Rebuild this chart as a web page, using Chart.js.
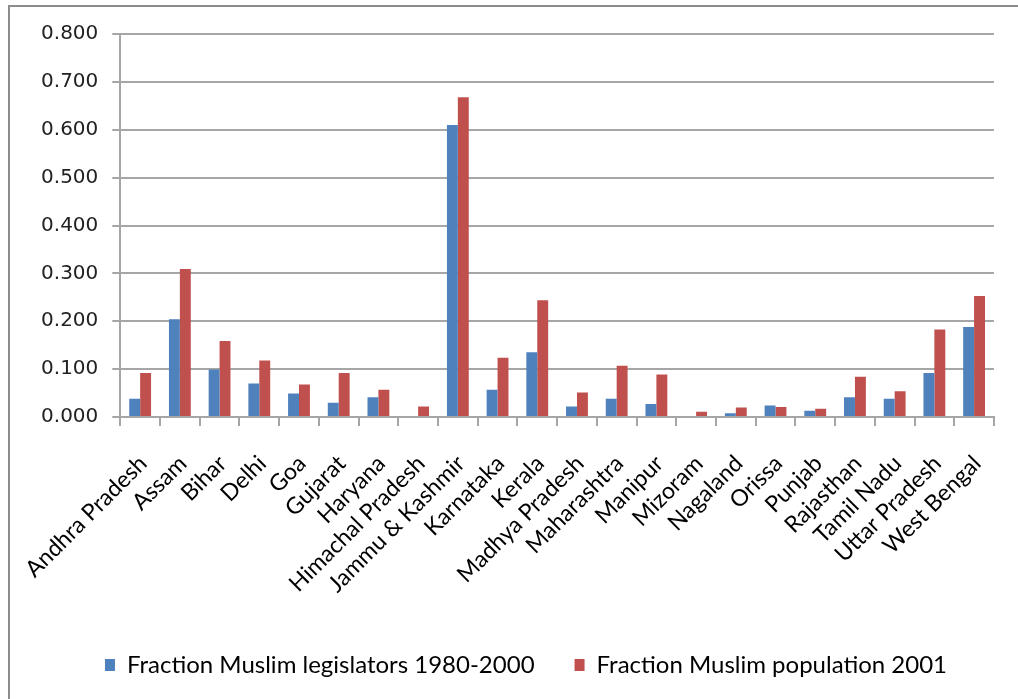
<!DOCTYPE html>
<html>
<head>
<meta charset="utf-8">
<script src="https://cdn.jsdelivr.net/npm/chart.js@4"></script>
<style>
  html, body { margin: 0; padding: 0; background: #fff; }
  #wrap { position: relative; width: 1018px; height: 699px; }
  #frame { position: absolute; left: 8px; top: 5px; width: 1030px; height: 720px;
           border-left: 2px solid #8c8c8c; border-top: 2px solid #8c8c8c; }
  canvas { position: absolute; left: 0; top: 0; }
</style>
</head>
<body>
<div id="wrap">
  <div id="frame"></div>
  <canvas id="chart" width="1018" height="699"></canvas>
</div>
<script>
const states = ['Andhra Pradesh', 'Assam', 'Bihar', 'Delhi', 'Goa', 'Gujarat', 'Haryana',
  'Himachal Pradesh', 'Jammu & Kashmir', 'Karnataka', 'Kerala', 'Madhya Pradesh',
  'Maharashtra', 'Manipur', 'Mizoram', 'Nagaland', 'Orissa', 'Punjab', 'Rajasthan',
  'Tamil Nadu', 'Uttar Pradesh', 'West Bengal'];

const legislators = [0.038, 0.204, 0.099, 0.070, 0.049, 0.030, 0.041, 0.000, 0.610, 0.057,
  0.135, 0.022, 0.038, 0.027, 0.000, 0.008, 0.024, 0.013, 0.041, 0.038, 0.092, 0.188];
const population = [0.092, 0.309, 0.159, 0.118, 0.068, 0.092, 0.057, 0.022, 0.668, 0.124,
  0.244, 0.051, 0.107, 0.089, 0.011, 0.020, 0.021, 0.017, 0.084, 0.054, 0.183, 0.253];

const GRID = '#a6a6a6';

// the legend in the original sits a bit right of the canvas centre
const shiftLegend = {
  id: 'shiftLegend',
  afterLayout(chart) {
    if (chart.legend) {
      chart.legend.left += 22;
      chart.legend.right += 22;
    }
  }
};

new Chart(document.getElementById('chart'), {
  type: 'bar',
  data: {
    labels: states,
    datasets: [
      { label: 'Fraction Muslim legislators 1980-2000', data: legislators, backgroundColor: '#4f81bd' },
      { label: 'Fraction Muslim population 2001', data: population, backgroundColor: '#c0504d' }
    ]
  },
  plugins: [shiftLegend],
  options: {
    responsive: false,
    animation: false,
    layout: { padding: { left: 10, top: 34, right: 20, bottom: 12 } },
    datasets: { bar: { categoryPercentage: 0.55, barPercentage: 1.0 } },
    plugins: {
      tooltip: { enabled: false },
      legend: {
        position: 'bottom',
        labels: {
          color: '#000',
          font: { family: 'Lato', size: 24 },
          boxWidth: 10,
          boxHeight: 12,
          padding: 40
        }
      }
    },
    scales: {
      x: {
        grid: { drawOnChartArea: false, drawTicks: true, tickLength: 9, color: GRID, lineWidth: 2 },
        border: { color: GRID, width: 2 },
        ticks: {
          color: '#000',
          font: { family: 'Lato', size: 23 },
          minRotation: 45,
          maxRotation: 45,
          autoSkip: false,
          padding: 24,
          labelOffset: 3
        },
        afterFit: s => { s.height = 196; }
      },
      y: {
        min: 0,
        max: 0.8,
        grid: { color: GRID, lineWidth: 2, tickLength: 8 },
        border: { color: GRID, width: 2 },
        ticks: {
          stepSize: 0.1,
          color: '#222',
          font: { family: 'DejaVu Sans', size: 20 },
          padding: 14,
          callback: v => Number(v).toFixed(3)
        },
        afterFit: s => { s.width = 108; }
      }
    }
  }
});
</script>
</body>
</html>
